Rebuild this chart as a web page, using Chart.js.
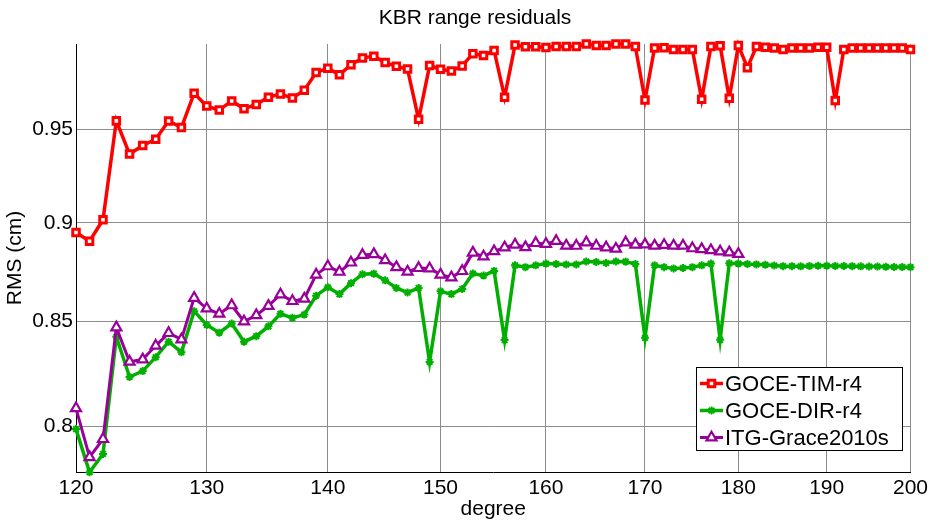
<!DOCTYPE html>
<html>
<head>
<meta charset="utf-8">
<script src="https://cdn.jsdelivr.net/npm/chart.js@4/dist/chart.umd.min.js"></script>
<style>
html,body{margin:0;padding:0;background:#fff;}
#wrap{width:932px;height:524px;position:relative;}
</style>
</head>
<body>
<div id="wrap"><canvas id="c" width="932" height="524"></canvas></div>
<script>
const titleText = 'KBR range residuals';
const xAxisLabel = 'degree';
const yAxisLabel = 'RMS (cm)';
const seriesNames = ['GOCE-TIM-r4', 'GOCE-DIR-r4', 'ITG-Grace2010s'];

const degrees = [120,121,122,123,124,125,126,127,128,129,
  130,131,132,133,134,135,136,137,138,139,
  140,141,142,143,144,145,146,147,148,149,
  150,151,152,153,154,155,156,157,158,159,
  160,161,162,163,164,165,166,167,168,169,
  170,171,172,173,174,175,176,177,178,179,
  180,181,182,183,184,185,186,187,188,189,
  190,191,192,193,194,195,196,197,198,199,200];

const xTickValues = [120,130,140,150,160,170,180,190,200];
const yTickValues = [0.8,0.85,0.9,0.95];
const yTickLabels = ['0.8','0.85','0.9','0.95'];

const goceTim = [0.8950,0.8905,0.9016,0.9548,0.9366,0.9413,0.9447,0.9547,0.9511,0.9702,
  0.9630,0.9608,0.9659,0.9615,0.9639,0.9680,0.9698,0.9675,0.9719,0.9819,
  0.9844,0.9806,0.9864,0.9902,0.9913,0.9876,0.9855,0.9839,0.9557,0.9859,
  0.9838,0.9828,0.9857,0.9927,0.9916,0.9946,0.9680,0.9977,0.9967,0.9967,
  0.9963,0.9968,0.9968,0.9968,0.9983,0.9975,0.9975,0.9983,0.9983,0.9968,
  0.9664,0.9960,0.9962,0.9951,0.9951,0.9951,0.9668,0.9968,0.9973,0.9674,
  0.9975,0.9847,0.9968,0.9964,0.9960,0.9951,0.9960,0.9960,0.9960,0.9964,
  0.9964,0.9661,0.9951,0.9960,0.9960,0.9960,0.9960,0.9960,0.9960,0.9960,0.9951];

const goceDir = [0.7986,0.7789,0.7872,0.8425,0.8231,0.8259,0.8326,0.8401,0.8350,0.8551,
  0.8483,0.8445,0.8490,0.8401,0.8428,0.8476,0.8538,0.8518,0.8534,0.8628,
  0.8670,0.8636,0.8691,0.8736,0.8739,0.8705,0.8667,0.8644,0.8667,0.8303,
  0.8650,0.8636,0.8662,0.8740,0.8729,0.8753,0.8409,0.8781,0.8772,0.8781,
  0.8790,0.8788,0.8785,0.8785,0.8801,0.8798,0.8793,0.8801,0.8800,0.8788,
  0.8420,0.8781,0.8772,0.8765,0.8768,0.8772,0.8781,0.8790,0.8410,0.8792,
  0.8790,0.8788,0.8786,0.8784,0.8780,0.8777,0.8777,0.8776,0.8778,0.8779,
  0.8779,0.8778,0.8778,0.8777,0.8776,0.8775,0.8775,0.8774,0.8773,0.8773,0.8772];

const itgGrace = [0.8083,0.7857,0.7940,0.8471,0.8304,0.8315,0.8381,0.8443,0.8412,0.8617,
  0.8564,0.8538,0.8580,0.8500,0.8531,0.8577,0.8634,0.8601,0.8613,0.8734,
  0.8776,0.8748,0.8795,0.8834,0.8838,0.8807,0.8772,0.8749,0.8767,0.8765,
  0.8734,0.8720,0.8752,0.8846,0.8826,0.8853,0.8873,0.8887,0.8874,0.8895,
  0.8891,0.8906,0.8882,0.8881,0.8898,0.8881,0.8873,0.8866,0.8898,0.8887,
  0.8888,0.8882,0.8885,0.8882,0.8882,0.8868,0.8864,0.8858,0.8852,0.8847,0.8839];

const FONT = 'Arial, "Liberation Sans", sans-serif';
Chart.defaults.font.family = FONT;
Chart.defaults.color = '#000';

function toPoints(vals) {
  return vals.map((v, i) => ({ x: degrees[i], y: v }));
}

const red = 'rgb(255,0,0)';
const green = 'rgb(0,175,0)';
const purple = 'rgb(153,0,153)';

const overlay = {
  id: 'overlay',
  afterDraw(chart) {
    const ctx = chart.ctx;
    ctx.save();
    ctx.fillStyle = '#000';
    ctx.font = '21px ' + FONT;
    ctx.textAlign = 'center';
    ctx.textBaseline = 'middle';
    ctx.fillText(titleText, 475, 18);

    // legend box
    const bx = 696.5, by = 367.5, bw = 206, bh = 83;
    ctx.fillStyle = '#fff';
    ctx.fillRect(bx, by, bw, bh);
    ctx.strokeStyle = '#000';
    ctx.lineWidth = 1;
    ctx.strokeRect(bx, by, bw, bh);
    chart.data.datasets.forEach((ds, i) => {
      const y = 383.5 + i * 27;
      ctx.strokeStyle = ds.borderColor;
      ctx.lineWidth = ds.borderWidth;
      ctx.beginPath();
      ctx.moveTo(700, y);
      ctx.lineTo(723, y);
      ctx.stroke();
      ctx.fillStyle = ds.pointBackgroundColor;
      ctx.strokeStyle = ds.pointBorderColor;
      ctx.lineWidth = ds.pointBorderWidth;
      Chart.helpers.drawPoint(ctx, {
        pointStyle: ds.pointStyle, radius: ds.pointRadius,
        borderWidth: ds.pointBorderWidth, rotation: 0
      }, 711.5, y);
      ctx.fillStyle = '#000';
      ctx.font = '22px ' + FONT;
      ctx.textAlign = 'left';
      ctx.textBaseline = 'middle';
      ctx.fillText(seriesNames[i], 725, y + 1);
    });
    ctx.restore();
  }
};

new Chart(document.getElementById('c'), {
  type: 'line',
  data: {
    datasets: [
      {
        label: seriesNames[0], data: toPoints(goceTim), order: 3, clip: false,
        borderColor: red, borderWidth: 3.5, tension: 0,
        pointStyle: 'rect', pointRadius: 4.6, pointBorderWidth: 3,
        pointBackgroundColor: '#fff', pointBorderColor: red
      },
      {
        label: seriesNames[1], data: toPoints(goceDir), order: 2, clip: false,
        borderColor: green, borderWidth: 3.5, tension: 0,
        pointStyle: 'star', pointRadius: 4, pointBorderWidth: 2,
        pointBackgroundColor: green, pointBorderColor: green
      },
      {
        label: seriesNames[2], data: toPoints(itgGrace), order: 1, clip: false,
        borderColor: purple, borderWidth: 3, tension: 0,
        pointStyle: 'triangle', pointRadius: 5.8, pointBorderWidth: 2.2,
        pointBackgroundColor: '#fff', pointBorderColor: purple
      }
    ]
  },
  options: {
    responsive: false,
    animation: false,
    devicePixelRatio: 1,
    events: [],
    layout: { padding: { left: 0, right: 20, top: 44, bottom: 0 } },
    plugins: {
      legend: { display: false },
      title: { display: false },
      tooltip: { enabled: false }
    },
    scales: {
      x: {
        type: 'logarithmic',
        position: 'bottom',
        min: 120, max: 200,
        afterBuildTicks: s => { s.ticks = xTickValues.map(v => ({ value: v })); },
        afterFit: s => { s.height = 52; },
        ticks: {
          autoSkip: false, maxRotation: 0, minRotation: 0, padding: 4,
          color: '#000', font: { size: 21 },
          callback: v => String(v)
        },
        grid: { color: '#8c8c8c', lineWidth: 1, drawTicks: false },
        border: { display: true, color: '#000', width: 1 },
        title: { display: true, text: xAxisLabel, color: '#000', font: { size: 21 }, padding: { top: 0, bottom: 2 } }
      },
      y: {
        type: 'logarithmic',
        position: 'left',
        min: 0.779, max: 0.9983,
        afterBuildTicks: s => { s.ticks = yTickValues.map(v => ({ value: v })); },
        afterFit: s => { s.width = 76; },
        ticks: {
          autoSkip: false, padding: 3, color: '#000', font: { size: 21 },
          callback: (v, i) => yTickLabels[i]
        },
        grid: { color: '#8c8c8c', lineWidth: 1, drawTicks: false },
        border: { display: true, color: '#000', width: 1 },
        title: { display: true, text: yAxisLabel, color: '#000', font: { size: 21 }, padding: { top: 2.4, bottom: 0 } }
      }
    }
  },
  plugins: [overlay]
});
</script>
</body>
</html>
